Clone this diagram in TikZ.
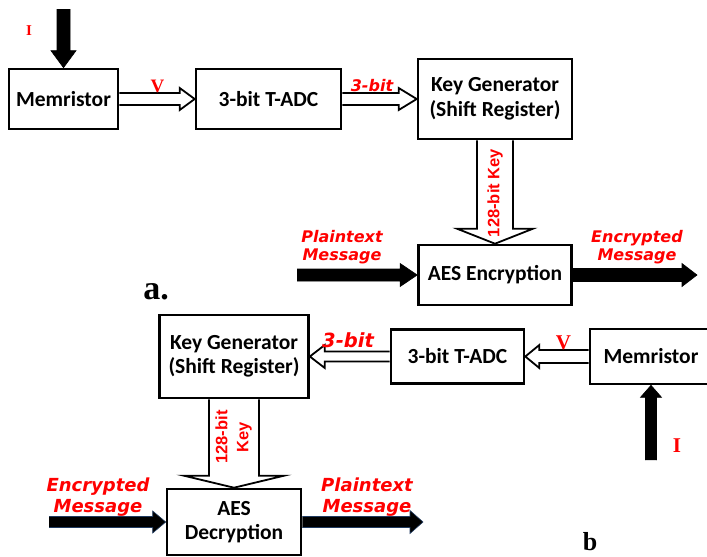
\documentclass[tikz,border=0pt]{standalone}
\usepackage{fontspec}
\usepackage{xcolor}
\usetikzlibrary{calc}
\newfontfamily\boxfont{Carlito}
\newfontfamily\tagfont{DejaVu Sans}
\newfontfamily\keyfont{Liberation Sans}
\newfontfamily\symfont{Liberation Serif}
\definecolor{navy}{HTML}{1F3A5F}

% block arrow: [style]{start}{tip}{shaft half}{head half}{head length}
\newcommand{\blockarrow}[6][]{%
  \coordinate (hb) at ($(#3)!#6!(#2)$);
  \draw[#1] ($(#2)!#4!90:(#3)$) -- ($(hb)!#4!-90:(#2)$) -- ($(hb)!#5!-90:(#2)$) -- (#3)
    -- ($(hb)!#5!90:(#2)$) -- ($(hb)!#4!90:(#2)$) -- ($(#2)!#4!-90:(#3)$);
}

\begin{document}
\begin{tikzpicture}[x=1pt, y=-1pt,
          box/.style={draw, line width=2.6pt, inner sep=0pt, align=center, font=\boxfont\bfseries\fontsize{21.5}{24.5}\selectfont},
          hollow/.style={draw, line width=1.8pt, line join=miter},
          blk/.style={fill=black, draw=black, line width=0.6pt, line join=miter},
          tag/.style 2 args={text=red, align=center, inner sep=0pt, font=\tagfont\bfseries\itshape\fontsize{#1}{#2}\selectfont},
          sym/.style={text=red, inner sep=0pt, font=\symfont\bfseries\fontsize{#1}{#1}\selectfont},
          keytag/.style={text=red, rotate=90, align=center, inner sep=0pt, font=\keyfont\bfseries\fontsize{16.5}{21}\selectfont},
          cap/.style={inner sep=0pt, font=\symfont\bfseries\fontsize{#1}{#1}\selectfont}
        ]
          \useasboundingbox (0,0) rectangle (707,557);

          % (a) encryption
          \node[box, minimum width=109, minimum height=60] (mema) at (63.5,99) {Memristor};
          \node[box, minimum width=145, minimum height=60] (adca) at (268.5,99) {3-bit T-ADC};
          \node[box, minimum width=154, minimum height=80] (kga) at (495,99) {Key Generator\\(Shift Register)};
          \node[box, minimum width=153, minimum height=60] (aese) at (495,275) {AES Encryption};

          \coordinate (ia) at (63.5,9);
          \coordinate (pin) at (297,275);
          \coordinate (cout) at (697,275);
          \blockarrow[blk]{ia}{mema.north}{6.5pt}{12.5pt}{17pt}
          \blockarrow[hollow]{mema.east}{adca.west}{6pt}{11pt}{15pt}
          \blockarrow[hollow]{adca.east}{kga.west}{6pt}{11pt}{18pt}
          \blockarrow[hollow]{kga.south}{aese.north}{18pt}{38pt}{15pt}
          \blockarrow[blk]{pin}{aese.west}{6pt}{11.5pt}{17pt}
          \blockarrow[blk]{aese.east}{cout}{6.5pt}{11.5pt}{15pt}

          \node[sym=15] (ta) at (29,31) {I};
          \node[sym=19] (va) at (157.5,86) {V};
          \node[tag={16}{18.5}] (bita) at (372,86) {3-bit};
          \node[keytag] (keya) at (495,193) {128-bit Key};
          \node[tag={16}{18.5}] (pta) at (342,247) {Plaintext\\Message};
          \node[tag={16}{18.5}] (cta) at (637,247) {Encrypted\\Message};
          \node[cap=34] (capa) at (156,292) {a.};

          % (b) decryption
          \node[box, minimum width=149, minimum height=83] (kgb) at (234,356.5) {Key Generator\\(Shift Register)};
          \node[box, minimum width=133, minimum height=54] (adcb) at (457.5,356.5) {3-bit T-ADC};
          \node[box, minimum width=122, minimum height=55] (memb) at (651,356.5) {Memristor};
          \node[box, minimum width=134, minimum height=66] (aesd) at (234,522) {AES\\Decryption};

          \coordinate (ib) at (651,460);
          \coordinate (cin) at (49,522);
          \coordinate (pout) at (423,522);
          \blockarrow[hollow]{memb.west}{adcb.east}{6.5pt}{11.5pt}{14pt}
          \blockarrow[hollow]{adcb.west}{kgb.east}{5pt}{11.5pt}{15pt}
          \blockarrow[hollow]{kgb.south}{aesd.north}{25pt}{50pt}{12pt}
          \blockarrow[blk]{ib}{memb.south}{5.5pt}{10.5pt}{12pt}
          \blockarrow[blk, draw=navy]{cin}{aesd.west}{5.5pt}{11pt}{13pt}
          \blockarrow[blk, draw=navy]{aesd.east}{pout}{5.5pt}{11.5pt}{13pt}

          \node[tag={19.5}{22}] (bitb) at (348,340) {3-bit};
          \node[sym=21] (vb) at (563.5,343) {V};
          \node[sym=21] (tb) at (677,446) {I};
          \node[keytag] (keyb) at (233.5,437) {128-bit\\Key};
          \node[tag={18}{20.5}] (ctb) at (98,497) {Encrypted\\Message};
          \node[tag={18}{20.5}] (ptb) at (367,497) {Plaintext\\Message};
          \node[cap=26] (capb) at (590,542) {b};
        \end{tikzpicture}
\end{document}
